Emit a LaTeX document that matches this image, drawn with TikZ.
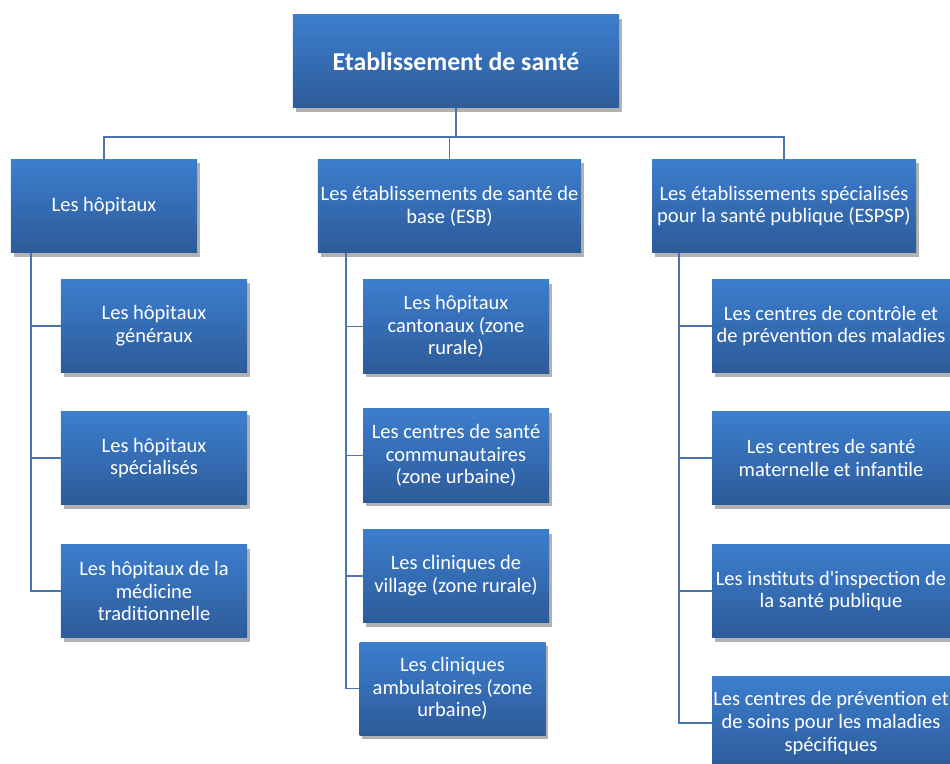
\documentclass[tikz,border=0pt]{standalone}
\usepackage{fontspec}
\setmainfont{Carlito}
\usetikzlibrary{shadows}
\definecolor{boxtop}{RGB}{60,126,206}
\definecolor{boxbot}{RGB}{45,91,153}
\definecolor{linkblue}{RGB}{74,116,172}
\tikzset{
  box/.style={rectangle, top color=boxtop, bottom color=boxbot, text=white, align=center,
    minimum height=2.79cm, inner sep=0pt, font=\fontsize{17.5}{19.4}\selectfont,
    drop shadow={shadow xshift=0.08cm, shadow yshift=-0.12cm, opacity=0.3, fill=black}},
  link/.style={draw=linkblue, line width=1.6pt}
}
\begin{document}
\begin{tikzpicture}[x=0.03cm, y=-0.03cm]
\useasboundingbox (0,0) rectangle (950,764);
\clip (0,0) rectangle (950,764);
\node[box, minimum width=9.78cm, font=\fontsize{22}{24}\selectfont\bfseries] (root) at (456,61.5) {Etablissement de santé};
\node[box, minimum width=5.58cm] (hop) at (104,206) {Les hôpitaux};
\node[box, minimum width=7.89cm] (esb) at (449.5,206) {Les établissements de santé de\\base (ESB)};
\node[box, minimum width=7.92cm] (espsp) at (784,206) {Les établissements spécialisés\\pour la santé publique (ESPSP)};

\node[box, minimum width=5.58cm] (hg) at (154,326) {Les hôpitaux\\généraux};
\node[box, minimum width=5.58cm] (hs) at (154,458) {Les hôpitaux\\spécialisés};
\node[box, minimum width=5.58cm] (hmt) at (154,591) {Les hôpitaux de la\\médicine\\traditionnelle};

\node[box, minimum width=5.58cm] (hc) at (456,326.5) {Les hôpitaux\\cantonaux (zone\\rurale)};
\node[box, minimum width=5.58cm] (csc) at (456,455.5) {Les centres de santé\\communautaires\\(zone urbaine)};
\node[box, minimum width=5.58cm] (cv) at (456,576) {Les cliniques de\\village (zone rurale)};
\node[box, minimum width=5.58cm] (ca) at (452.5,688.5) {Les cliniques\\ambulatoires (zone\\urbaine)};

\node[box, minimum width=7.14cm] (ccp) at (831,326) {Les centres de contrôle et\\de prévention des maladies};
\node[box, minimum width=7.14cm] (csm) at (831,458) {Les centres de santé\\maternelle et infantile};
\node[box, minimum width=7.14cm] (iisp) at (831,591) {Les instituts d\textquotesingle{}inspection de\\la santé publique};
\node[box, minimum width=7.14cm] (cps) at (831,723) {Les centres de prévention et\\de soins pour les maladies\\spécifiques};

\coordinate (bus) at (456,137);
\draw[link] (root) -- (bus);
\draw[link] (bus) -| (hop.north);
\draw[link] (bus) -| (esb.north);
\draw[link] (bus) -| (espsp.north);

\draw[link] ([xshift=0.6cm]hop.south west) |- (hg.west);
\draw[link] ([xshift=0.6cm]hop.south west) |- (hs.west);
\draw[link] ([xshift=0.6cm]hop.south west) |- (hmt.west);

\draw[link] ([xshift=0.84cm]esb.south west) |- (hc.west);
\draw[link] ([xshift=0.84cm]esb.south west) |- (csc.west);
\draw[link] ([xshift=0.84cm]esb.south west) |- (cv.west);
\draw[link] ([xshift=0.84cm]esb.south west) |- (ca.west);

\draw[link] ([xshift=0.81cm]espsp.south west) |- (ccp.west);
\draw[link] ([xshift=0.81cm]espsp.south west) |- (csm.west);
\draw[link] ([xshift=0.81cm]espsp.south west) |- (iisp.west);
\draw[link] ([xshift=0.81cm]espsp.south west) |- (cps.west);
\end{tikzpicture}
\end{document}
